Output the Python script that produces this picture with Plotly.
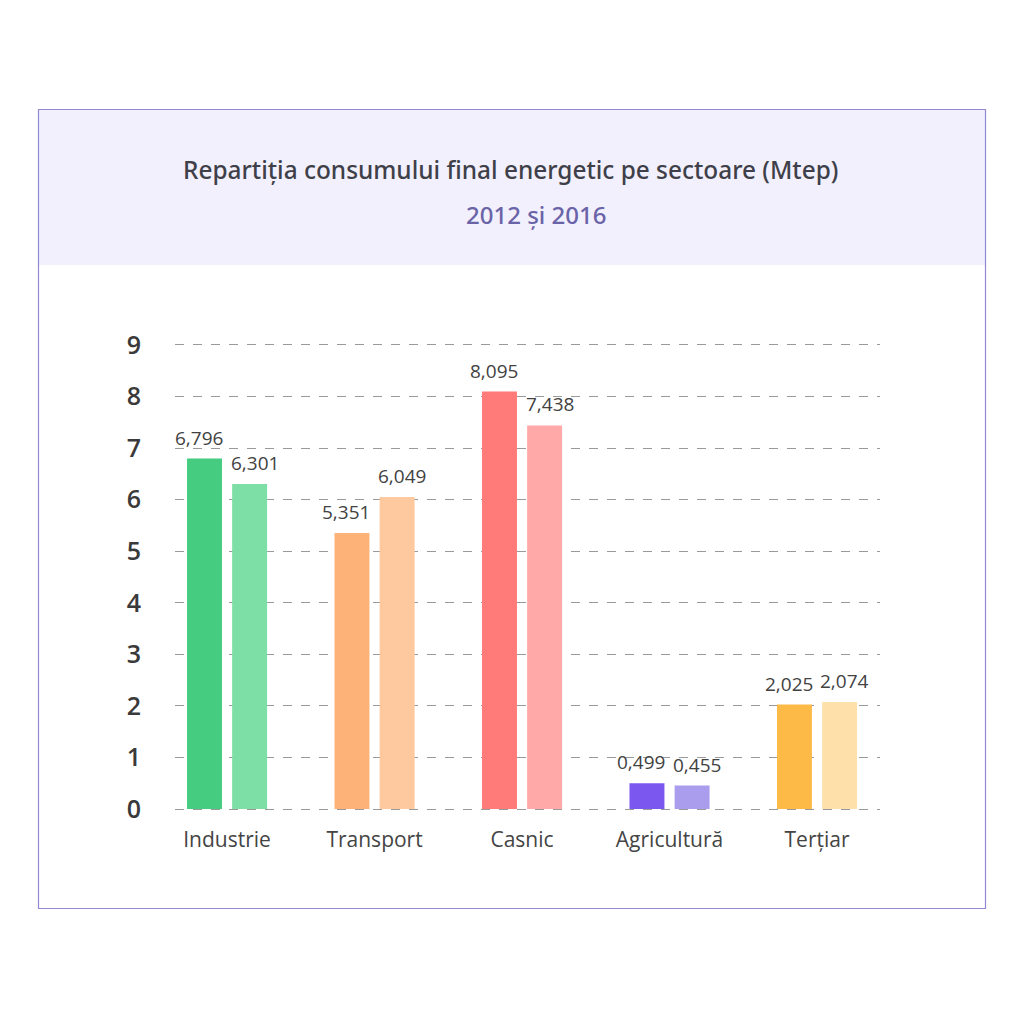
import plotly.graph_objects as go

categories = ["Industrie", "Transport", "Casnic", "Agricultură", "Terțiar"]
values_2012 = [6.796, 5.351, 8.095, 0.499, 2.025]
values_2016 = [6.301, 6.049, 7.438, 0.455, 2.074]
colors_2012 = ["#45cc80", "#fdb277", "#ff7b79", "#7b57f0", "#fdba47"]
colors_2016 = ["#7ddfa6", "#fec99e", "#ffaaa9", "#ab9ded", "#fee0aa"]
y_ticks = [0, 1, 2, 3, 4, 5, 6, 7, 8, 9]
title = "Repartiția consumului final energetic pe sectoare (Mtep)"
subtitle = "2012 și 2016"

W = H = 1024


def fmt(v):
    return f"{v:.3f}".replace(".", ",")


def px(x):
    return x / W


def py(y):
    return 1 - y / H


x_idx = list(range(len(categories)))
bar_w = 0.237
offsets = [-0.153, 0.153]
label_shift = [-0.04, 0.034]

fig = go.Figure()
annotations = []
for vals, cols, off, ls in zip([values_2012, values_2016], [colors_2012, colors_2016], offsets, label_shift):
    fig.add_trace(go.Bar(
        x=x_idx, y=vals, width=bar_w, offset=off - bar_w / 2,
        marker=dict(color=cols, line=dict(width=0)),
        hoverinfo="skip",
    ))
    for i, v in zip(x_idx, vals):
        annotations.append(dict(
            text=fmt(v), x=i + off + ls, y=v, xref="x", yref="y",
            showarrow=False, xanchor="center", yanchor="bottom", yshift=6,
            font=dict(family="Open Sans", size=19, color="#424242"),
        ))

annotations += [
    dict(text=title, xref="paper", yref="paper", x=px(510), y=py(169), showarrow=False,
         xanchor="center", yanchor="middle",
         font=dict(family="Noto Sans", size=24.4, color="#3f3f49", weight=500)),
    dict(text=subtitle, xref="paper", yref="paper", x=px(536), y=py(214), showarrow=False,
         xanchor="center", yanchor="middle",
         font=dict(family="Noto Sans", size=24, color="#6a63a8", weight=500)),
]

fig.update_layout(
    width=W, height=H, margin=dict(l=0, r=0, t=0, b=0, autoexpand=False),
    paper_bgcolor="white", plot_bgcolor="rgba(0,0,0,0)",
    barmode="overlay", showlegend=False,
    xaxis=dict(
        domain=[px(175), px(880)], range=[-0.353, 4.427],
        tickmode="array", tickvals=x_idx, ticktext=categories,
        showgrid=False, zeroline=False, showline=False, ticks="",
        tickfont=dict(family="Open Sans", size=21, color="#444444", weight=500),
        ticklabelstandoff=0, automargin=False,
    ),
    yaxis=dict(
        domain=[py(825), py(330)], range=[-0.31, 9.29],
        tickmode="array", tickvals=y_ticks, ticktext=[str(t) for t in y_ticks],
        showgrid=True, gridcolor="#9a9a9a", griddash="dash", gridwidth=1,
        zeroline=False, showline=False, ticks="",
        tickfont=dict(family="Open Sans", size=25, color="#3a3a3a", weight=600),
        ticklabelstandoff=33, automargin=False,
    ),
    shapes=[
        dict(type="rect", xref="paper", yref="paper", x0=px(39), x1=px(985), y0=py(265), y1=py(110),
             fillcolor="#f1f0fc", line=dict(width=0), layer="below"),
        dict(type="rect", xref="paper", yref="paper", x0=px(38.5), x1=px(985.5), y0=py(908.5), y1=py(109.5),
             fillcolor="rgba(0,0,0,0)", line=dict(color="#9189d4", width=1.2), layer="above"),
    ],
    annotations=annotations,
)

fig.write_html("out.html")
